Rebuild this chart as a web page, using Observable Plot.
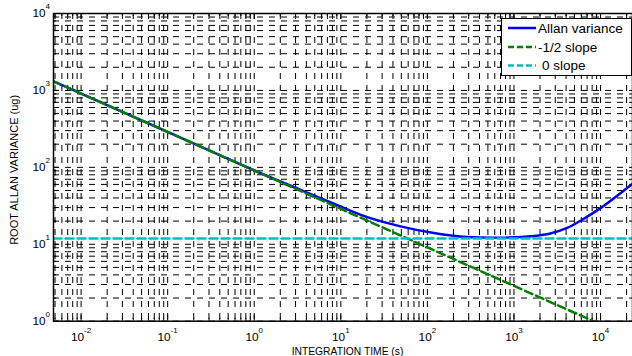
<!DOCTYPE html>
<html><head><meta charset="utf-8">
<script src="https://cdn.jsdelivr.net/npm/d3@7"></script>
<script src="https://cdn.jsdelivr.net/npm/@observablehq/plot@0.6"></script>
<style>
html,body{margin:0;padding:0;background:#fff;overflow:hidden}
#chart{position:relative;width:632px;height:356px}
svg{font-family:"Liberation Sans",Arial,Helvetica,sans-serif}
#legend{position:absolute;left:501px;top:18px;width:131px;height:58px;box-sizing:border-box;border:1px solid #000;background:#fff}
#legend svg{position:absolute;left:0;top:0;display:block}
</style></head><body><div id="chart"><div id="legend"></div></div>
<script>
// ---- data ----
const allanTau   = [0.0048, 0.01, 0.1, 1, 3.43, 8.3, 20.2, 48.9, 118.6, 288, 698, 1694, 2630, 4110, 6400, 9977, 23400];
const allanSigma = [1315,   910,  289, 91, 51,  33.7, 22.5, 17.1, 14.0, 12.4, 12.15, 12.8, 13.8, 16.3, 21.5, 29.5, 61.4];
const slopeTau   = [0.0048, 8300];
const slopeSigma = [1315, 1];
const flatTau    = [0.0048, 23400];
const flatSigma  = [11.9, 11.9];
const xMajorTicks = [0.01, 0.1, 1, 10, 100, 1000, 10000];
const yMajorTicks = [1, 10, 100, 1000, 10000];
const xLabel = "INTEGRATION TIME (s)";
const yLabel = "ROOT ALLAN VARIANCE (ug)";
const legendLabels = ["Allan variance", "-1/2 slope", "0 slope"];
const seriesColors = ["#0000ff", "#008000", "#00bfbf"];

// ---- layout ----
const W = 632, H = 356;
const mL = 53, mR = 0, mT = 13, mB = 35.3;
const xDomain = [0.0048, 23400];
const yDomain = [1, 10000];
const plotW = W - mL - mR, plotH = H - mT - mB;

function logTicks(domain) {
  const out = [];
  for (let k = -4; k <= 5; k++) for (let m = 1; m <= 9; m++) {
    const v = +(m * Math.pow(10, k)).toPrecision(6);
    if (v >= domain[0] * 0.9999 && v <= domain[1] * 1.0001) out.push(v);
  }
  return out;
}
const xAll = logTicks(xDomain), yAll = logTicks(yDomain);
const isMajor = v => Math.abs(Math.log10(v) - Math.round(Math.log10(v))) < 1e-9;
const xMinor = xAll.filter(v => !isMajor(v)), yMinor = yAll.filter(v => !isMajor(v));

const allan = allanTau.map((t, i) => ({t, s: allanSigma[i]}));
const slope = slopeTau.map((t, i) => ({t, s: slopeSigma[i]}));
const flat = flatTau.map((t, i) => ({t, s: flatSigma[i]}));

const gridStyle = {stroke: "#000", strokeOpacity: 1, strokeWidth: 1, strokeDasharray: "6,6"};

const plot = Plot.plot({
  width: W, height: H,
  marginLeft: mL, marginRight: mR, marginTop: mT, marginBottom: mB,
  style: {fontFamily: '"Liberation Sans", Arial, sans-serif', background: "#fff", overflow: "visible"},
  x: {type: "log", domain: xDomain, label: null},
  y: {type: "log", domain: yDomain, label: null},
  marks: [
    Plot.gridX(xAll, gridStyle),
    Plot.gridY(yAll, gridStyle),
    Plot.ruleX(xMinor, {stroke: "#000", insetTop: plotH - 3}),
    Plot.ruleX(xMajorTicks, {stroke: "#000", insetTop: plotH - 6}),
    Plot.ruleX(xMinor, {stroke: "#000", insetBottom: plotH - 3}),
    Plot.ruleX(xMajorTicks, {stroke: "#000", insetBottom: plotH - 6}),
    Plot.ruleY(yMinor, {stroke: "#000", insetRight: plotW - 3}),
    Plot.ruleY(yMajorTicks, {stroke: "#000", insetRight: plotW - 6}),
    Plot.line(allan, {x: "t", y: "s", stroke: seriesColors[0], strokeWidth: 2.5, curve: "catmull-rom", clip: true}),
    Plot.line(slope, {x: "t", y: "s", stroke: seriesColors[1], strokeWidth: 2.5, strokeDasharray: "8,4", clip: true}),
    Plot.line(flat, {x: "t", y: "s", stroke: seriesColors[2], strokeWidth: 2.5, strokeDasharray: "8,4", clip: true}),
    Plot.frame({stroke: "#000", strokeWidth: 1.5}),
    Plot.axisX(xMajorTicks, {tickSize: 0, tickPadding: 11, fontSize: 11.8, tickFormat: d => String(Math.round(Math.log10(d))), label: null}),
    Plot.axisY(yMajorTicks, {tickSize: 0, tickPadding: 3.5, fontSize: 11.8, tickFormat: d => String(Math.round(Math.log10(d))), label: null})
  ]
});
document.getElementById("chart").insertBefore(plot, document.getElementById("legend"));

// superscript tick labels: 10^n
const svg = d3.select(plot);
function supify(sel) {
  sel.each(function () {
    const e = this.textContent;
    this.textContent = "";
    const t = d3.select(this);
    t.append("tspan").text("10");
    t.append("tspan").attr("dy", -8).attr("font-size", 8).text(e);
  });
}
supify(svg.selectAll('g[aria-label="x-axis tick label"] text'));
supify(svg.selectAll('g[aria-label="y-axis tick label"] text'));

// axis titles
svg.append("text").attr("x", mL + plotW / 2 + 5).attr("y", 354.5).attr("text-anchor", "middle")
  .attr("font-size", 10.3).attr("fill", "#000").text(xLabel);
svg.append("text").attr("transform", `translate(18,${mT + plotH / 2 + 3}) rotate(-90)`).attr("text-anchor", "middle")
  .attr("font-size", 11).attr("fill", "#000").text(yLabel);

// legend (boxed, top-right inside the axes)
const lsvg = d3.select("#legend").append("svg").attr("width", 131).attr("height", 58)
  .style("font-family", '"Liberation Sans", Arial, sans-serif');
const rows = [9, 28, 46.5];
legendLabels.forEach((lab, i) => {
  lsvg.append("line").attr("x1", 6).attr("x2", 34).attr("y1", rows[i]).attr("y2", rows[i])
    .attr("stroke", seriesColors[i]).attr("stroke-width", 2.5)
    .attr("stroke-dasharray", i === 0 ? null : "6,3");
  lsvg.append("text").attr("x", i === 2 ? 40 : 36).attr("y", rows[i] + 4.7).attr("font-size", 13.5)
    .attr("text-anchor", "start").attr("fill", "#000").text(lab);
});
</script>
</body></html>
